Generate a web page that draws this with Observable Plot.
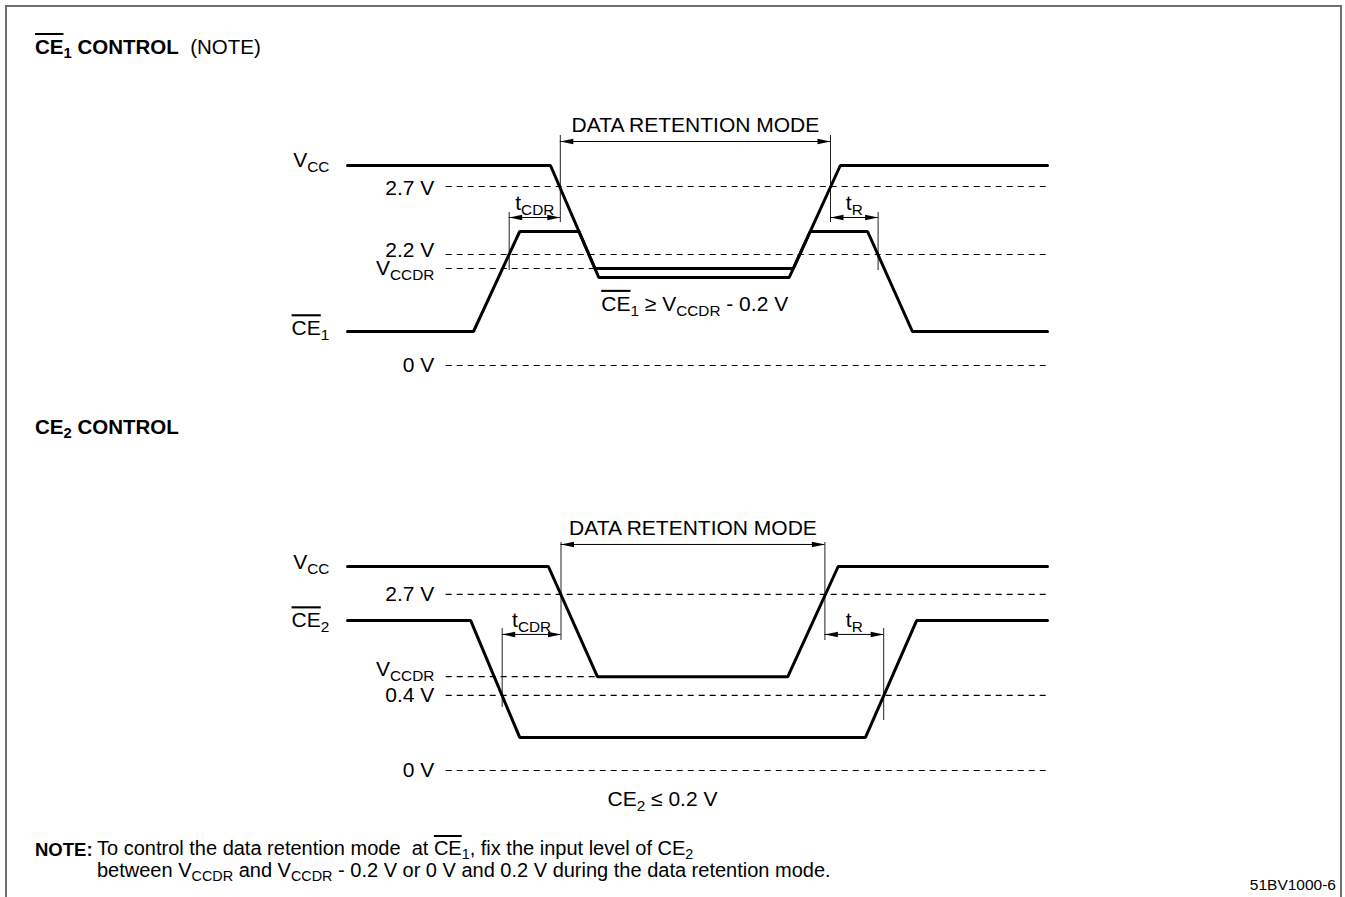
<!DOCTYPE html>
<html>
<head>
<meta charset="utf-8">
<script src="https://cdn.jsdelivr.net/npm/d3@7"></script>
<script src="https://cdn.jsdelivr.net/npm/@observablehq/plot@0.6"></script>
<style>
  body { margin: 0; background: #fff; font-family: "Liberation Sans", Arial, Helvetica, sans-serif; color: #000; }
  #page { position: relative; width: 1345px; height: 897px; overflow: hidden; background: #fff; }
  #frame { position: absolute; left: 5px; top: 5px; width: 1333px; height: 910px;
           border-left: 2px solid #707070; border-top: 2px solid #707070; border-right: 2px solid #707070; }
  .abs { position: absolute; white-space: pre; line-height: 20px; }
  .ol { text-decoration: overline; }
  sub { font-size: 72%; vertical-align: -0.25em; line-height: 0; }
  .title { font-size: 20.5px; font-weight: bold; left: 35px; }
  .note { font-size: 20px; }
  .plot { position: absolute; left: 0; }
</style>
</head>
<body>
<div id="page">
  <div id="frame"></div>
  <div class="abs title" style="top:37px"><span class="ol">CE</span><sub>1</sub> CONTROL<span style="font-weight:normal">  (NOTE)</span></div>
  <div class="abs title" style="top:417px">CE<sub>2</sub> CONTROL</div>
  <div class="abs" style="top:840px;left:35px;font-weight:bold;font-size:18.5px">NOTE:</div>
  <div class="abs note" style="top:838px;left:97px">To control the data retention mode  at <span class="ol">CE</span><sub>1</sub>, fix the input level of CE<sub>2</sub></div>
  <div class="abs note" style="top:860px;left:97px">between V<sub>CCDR</sub> and V<sub>CCDR</sub> - 0.2 V or 0 V and 0.2 V during the data retention mode.</div>
  <div class="abs" style="top:875px;right:9px;font-size:15.5px">51BV1000-6</div>
  <div id="p1" class="plot" style="top:100px"></div>
  <div id="p2" class="plot" style="top:480px"></div>
</div>
<script>
// ===== DATA (time in diagram units 0–100, level in diagram units: 0 V = 0, VCC = 10) =====
// Markup in labels: ~XX~ = overlined, _{xx} = subscript

// ---- Panel 1: CE1 control ----
const ce1VccWave = [
  {t: 0, v: 10}, {t: 29.0, v: 10}, {t: 35.9, v: 4.4},
  {t: 63.1, v: 4.4}, {t: 70.4, v: 10}, {t: 100, v: 10}
];
const ce1Wave = [
  {t: 0, v: 1.7}, {t: 18.0, v: 1.7}, {t: 24.6, v: 6.7}, {t: 33.07, v: 6.7},
  {t: 35.35, v: 4.85}, {t: 63.69, v: 4.85}, {t: 66.1, v: 6.7},
  {t: 74.3, v: 6.7}, {t: 80.7, v: 1.7}, {t: 100, v: 1.7}
];
const ce1SignalNames = ["V_{CC}", "~CE~_{1}"];
const ce1SignalLevels = [10, 1.7];
const ce1RefNames = ["2.7 V", "2.2 V", "V_{CCDR}", "0 V"];
const ce1RefLevels = [8.95, 5.55, 4.85, 0];
const ce1RefEnds = [100, 100, 35.35, 100];
const ce1Spans = [
  {name: "DATA RETENTION MODE", from: 30.4, to: 69.0, level: 11.2},
  {name: "t_{CDR}", from: 23.1, to: 30.4, level: 7.4},
  {name: "t_{R}", from: 69.0, to: 75.8, level: 7.4}
];
const ce1Markers = [
  {t: 30.4, top: 11.5, bottom: 7.15}, {t: 69.0, top: 11.5, bottom: 7.15},
  {t: 23.1, top: 7.65, bottom: 4.75}, {t: 75.8, top: 7.65, bottom: 4.75}
];
const ce1Condition = [{text: "~CE~_{1} ≥ V_{CCDR} - 0.2 V", t: 49.6, level: 3.07}];

// ---- Panel 2: CE2 control ----
const ce2VccWave = [
  {t: 0, v: 10}, {t: 28.7, v: 10}, {t: 35.7, v: 4.6},
  {t: 62.9, v: 4.6}, {t: 70.1, v: 10}, {t: 100, v: 10}
];
const ce2Wave = [
  {t: 0, v: 7.35}, {t: 17.6, v: 7.35}, {t: 24.6, v: 1.62},
  {t: 74.0, v: 1.62}, {t: 81.3, v: 7.35}, {t: 100, v: 7.35}
];
const ce2SignalNames = ["V_{CC}", "~CE~_{2}"];
const ce2SignalLevels = [10, 7.35];
const ce2RefNames = ["2.7 V", "V_{CCDR}", "0.4 V", "0 V"];
const ce2RefLevels = [8.63, 4.6, 3.68, 0];
const ce2RefEnds = [100, 35.5, 100, 100];
const ce2Spans = [
  {name: "DATA RETENTION MODE", from: 30.5, to: 68.2, level: 11.08},
  {name: "t_{CDR}", from: 22.1, to: 30.5, level: 6.67},
  {name: "t_{R}", from: 68.2, to: 76.6, level: 6.67}
];
const ce2Markers = [
  {t: 30.5, top: 11.18, bottom: 6.37}, {t: 68.2, top: 11.18, bottom: 6.37},
  {t: 22.1, top: 6.96, bottom: 3.09}, {t: 76.6, top: 6.96, bottom: 2.45}
];
const ce2Condition = [{text: "CE_{2} ≤ 0.2 V", t: 45.0, level: -1.42}];

// ===== DRAWING =====
const FONT = '"Liberation Sans", Arial, Helvetica, sans-serif';
const FS = 21;              // diagram text size
const REF_START = 14.1;     // where dashed reference lines begin (time units)
const SIG_LABEL_T = -2.6;   // right edge of signal labels
const REF_LABEL_T = 12.4;   // right edge of level labels

// arrowhead symbols (tip at origin)
const headRight = {draw(ctx) { ctx.moveTo(0, 0); ctx.lineTo(-13, -2.7); ctx.lineTo(-13, 2.7); ctx.closePath(); }};
const headLeft  = {draw(ctx) { ctx.moveTo(0, 0); ctx.lineTo(13, -2.7); ctx.lineTo(13, 2.7); ctx.closePath(); }};

function richify(root) {
  const NS = "http://www.w3.org/2000/svg";
  const SUB = 0.73, SHIFT = 0.32;
  root.querySelectorAll("text").forEach(el => {
    const s = el.textContent;
    if (!/[~_]/.test(s)) return;
    el.textContent = "";
    const parts = s.split(/(~[^~]*~|_\{[^}]*\})/).filter(p => p !== "");
    let afterSub = false;
    for (const p of parts) {
      const ts = document.createElementNS(NS, "tspan");
      if (p.startsWith("_{")) {
        ts.textContent = p.slice(2, -1);
        ts.setAttribute("font-size", (SUB * 100) + "%");
        ts.setAttribute("dy", SHIFT + "em");
        el.appendChild(ts);
        afterSub = true;
        continue;
      }
      if (p.startsWith("~")) {
        ts.textContent = p.slice(1, -1);
        ts.setAttribute("text-decoration", "overline");
        ts.style.textDecoration = "overline";
      } else {
        ts.textContent = p;
      }
      if (afterSub) { ts.setAttribute("dy", (-SUB * SHIFT) + "em"); afterSub = false; }
      el.appendChild(ts);
    }
  });
}

function panel(cfg) {
  const refs = cfg.refNames.map((name, i) => ({name, level: cfg.refLevels[i], end: cfg.refEnds[i]}));
  const sigs = cfg.sigNames.map((name, i) => ({name, level: cfg.sigLevels[i]}));
  const marks = [
    Plot.ruleY(refs, {y: "level", x1: REF_START, x2: "end", stroke: "#000", strokeWidth: 1.2, strokeDasharray: "6,5"}),
    ...refs.map(r => Plot.text([r], {x: REF_LABEL_T, y: "level", text: "name", textAnchor: "end",
      fontSize: FS, dy: cfg.refNudge[r.name] || 0})),
    ...sigs.map(s => Plot.text([s], {x: SIG_LABEL_T, y: "level", text: "name", textAnchor: "end",
      fontSize: FS, dy: cfg.sigNudge[s.name] || 0})),
    Plot.ruleX(cfg.markers, {x: "t", y1: "top", y2: "bottom", stroke: "#222", strokeWidth: 1}),
    Plot.ruleY(cfg.spans, {y: "level", x1: "from", x2: "to", stroke: "#000", strokeWidth: 1}),
    Plot.dot(cfg.spans, {x: "to", y: "level", symbol: headRight, fill: "#000", stroke: "none", r: 5}),
    Plot.dot(cfg.spans, {x: "from", y: "level", symbol: headLeft, fill: "#000", stroke: "none", r: 5}),
    ...cfg.spans.map(s => Plot.text([s], {x: d => (d.from + d.to) / 2, y: "level", text: "name",
      fontSize: FS, dy: s.name.startsWith("t") ? -14 : -16})),
    Plot.line(cfg.vcc, {x: "t", y: "v", stroke: "#000", strokeWidth: 3, strokeLinejoin: "miter"}),
    Plot.line(cfg.sig, {x: "t", y: "v", stroke: "#000", strokeWidth: 3, strokeLinejoin: "miter"}),
    Plot.text(cfg.condition, {x: "t", y: "level", text: "text", fontSize: FS})
  ];
  const svg = Plot.plot({
    width: 1345,
    height: cfg.height,
    marginLeft: 347, marginRight: 298,
    marginTop: cfg.marginTop, marginBottom: cfg.marginBottom,
    x: {domain: [0, 100], axis: null},
    y: {domain: [0, 10], axis: null},
    style: {background: "transparent", fontFamily: FONT, overflow: "visible", color: "#000"},
    marks
  });
  richify(svg);
  return svg;
}

document.getElementById("p1").appendChild(panel({
  height: 300, marginTop: 65, marginBottom: 35,
  vcc: ce1VccWave, sig: ce1Wave,
  sigNames: ce1SignalNames, sigLevels: ce1SignalLevels,
  refNames: ce1RefNames, refLevels: ce1RefLevels, refEnds: ce1RefEnds,
  spans: ce1Spans, markers: ce1Markers, condition: ce1Condition,
  refNudge: {"2.2 V": -4, "2.7 V": 2},
  sigNudge: {"V_{CC}": -5, "~CE~_{1}": -3}
}));

document.getElementById("p2").appendChild(panel({
  height: 340, marginTop: 86, marginBottom: 50,
  vcc: ce2VccWave, sig: ce2Wave,
  sigNames: ce2SignalNames, sigLevels: ce2SignalLevels,
  refNames: ce2RefNames, refLevels: ce2RefLevels, refEnds: ce2RefEnds,
  spans: ce2Spans, markers: ce2Markers, condition: ce2Condition,
  refNudge: {"V_{CCDR}": -7.5},
  sigNudge: {"V_{CC}": -4}
}));
</script>
</body>
</html>
